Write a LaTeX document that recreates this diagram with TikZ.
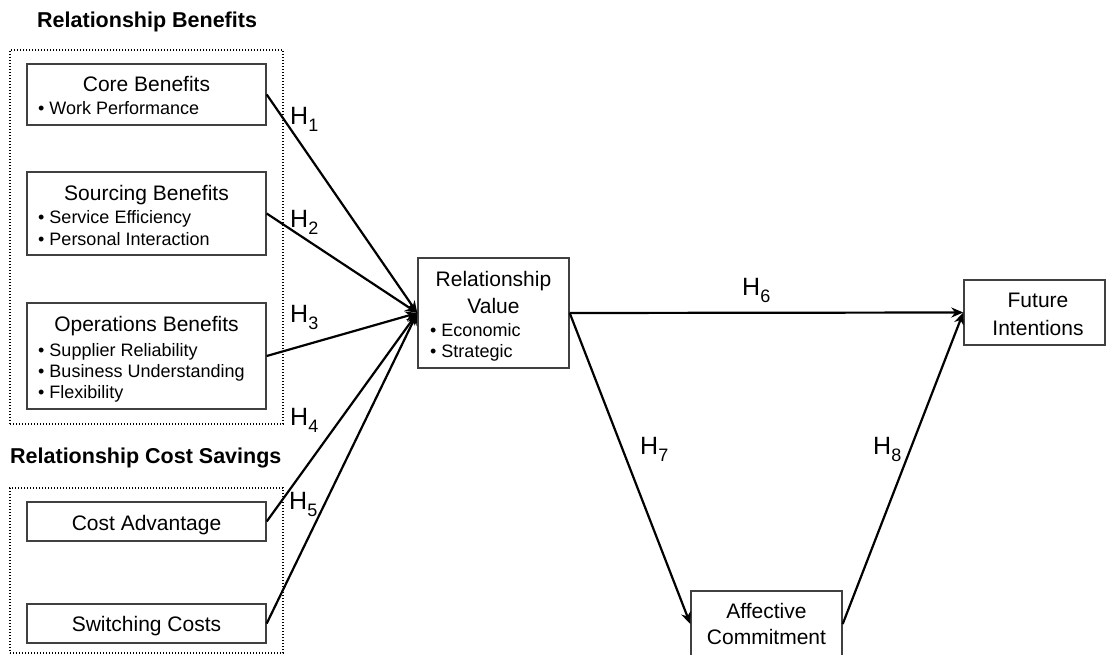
\documentclass[tikz,border=0pt]{standalone}
\usepackage{fontspec}
\setmainfont{Liberation Sans}
\usetikzlibrary{arrows.meta}
% hypothesis label: H with a lowered index
\newcommand{\hyplabel}[1]{H\raisebox{-7pt}{\fontsize{18}{18}\selectfont #1}}
\begin{document}
\begin{tikzpicture}[x=1pt,y=-1pt,
  box/.style={draw=black!75, line width=1.4pt, inner sep=0pt, rectangle},
  group/.style={draw=black, line width=1.2pt, dash pattern=on 1.4pt off 1.6pt, inner sep=0pt, rectangle},
  title/.style={anchor=base, inner sep=0pt, font=\fontsize{21}{25}\selectfont},
  item/.style={anchor=base west, inner sep=0pt, font=\fontsize{18}{21}\selectfont},
  heading/.style={anchor=base west, inner sep=0pt, font=\fontsize{21.5}{25}\selectfont\bfseries},
  hyp/.style={anchor=base west, inner sep=0pt, font=\fontsize{25}{28}\selectfont},
  conn/.style={line width=2.2pt, -{Stealth[length=12pt,width=10pt]}}
]
\useasboundingbox (0,0) rectangle (1109,655);

% group headings and dotted frames
\node[heading] (hbenefits) at (37,28) {Relationship Benefits};
\node[heading] (hsavings) at (10,463) {Relationship Cost Savings};
\node[group, minimum width=273pt, minimum height=374pt] (gbenefits) at (146.5,237) {};
\node[group, minimum width=273pt, minimum height=165pt] (gsavings) at (146.5,570.5) {};

% antecedent boxes
\node[box, minimum width=239pt, minimum height=61pt] (core) at (146.5,94.5) {};
\node[title] (coreT) at (146.5,92) {Core Benefits};
\node[item] (core1) at (38,115) {• Work Performance};

\node[box, minimum width=239pt, minimum height=83pt] (sourcing) at (146.5,213.5) {};
\node[title] (sourcingT) at (146.5,201) {Sourcing Benefits};
\node[item] (sourcing1) at (38,224) {• Service Efficiency};
\node[item] (sourcing2) at (38,246) {• Personal Interaction};

\node[box, minimum width=239pt, minimum height=106pt] (operations) at (146.5,356) {};
\node[title] (operationsT) at (146.5,331) {Operations Benefits};
\node[item] (operations1) at (38,356) {• Supplier Reliability};
\node[item] (operations2) at (38,377) {• Business Understanding};
\node[item] (operations3) at (38,398) {• Flexibility};

\node[box, minimum width=239pt, minimum height=39pt] (cost) at (146.5,521.5) {};
\node[title] (costT) at (146.5,530) {Cost Advantage};

\node[box, minimum width=239pt, minimum height=39pt] (switching) at (146.5,623.5) {};
\node[title] (switchingT) at (146.5,631) {Switching Costs};

% mediator and outcomes
\node[box, minimum width=151pt, minimum height=110pt] (rv) at (493.5,313) {};
\node[title] (rvT1) at (493.5,287) {Relationship};
\node[title] (rvT2) at (493.5,313) {Value};
\node[item] (rv1) at (430,336) {• Economic};
\node[item] (rv2) at (430,357) {• Strategic};

\node[box, minimum width=141pt, minimum height=65pt] (fi) at (1034.5,312.5) {};
\node[title] (fiT1) at (1038,308) {Future};
\node[title] (fiT2) at (1038,335) {Intentions};

\node[box, minimum width=151pt, minimum height=66pt] (ac) at (766.5,624) {};
\node[title] (acT1) at (766.5,618) {Affective};
\node[title] (acT2) at (766.5,644) {Commitment};

% hypothesised paths
\draw[conn] (core.east) -- (rv.west);
\draw[conn] (sourcing.east) -- (rv.west);
\draw[conn] (operations.east) -- (rv.west);
\draw[conn] (cost.east) -- (rv.west);
\draw[conn] (switching.east) -- (rv.west);
\draw[conn] (rv.east) -- (fi.west);
\draw[conn] (rv.east) -- (ac.west);
\draw[conn] (ac.east) -- (fi.west);

% path labels
\node[hyp] (h1) at (290,125) {\hyplabel{1}};
\node[hyp] (h2) at (290,228) {\hyplabel{2}};
\node[hyp] (h3) at (290,323) {\hyplabel{3}};
\node[hyp] (h4) at (290,425) {\hyplabel{4}};
\node[hyp] (h5) at (289,509) {\hyplabel{5}};
\node[hyp] (h6) at (742,295) {\hyplabel{6}};
\node[hyp] (h7) at (640,454) {\hyplabel{7}};
\node[hyp] (h8) at (873,454) {\hyplabel{8}};
\end{tikzpicture}
\end{document}
